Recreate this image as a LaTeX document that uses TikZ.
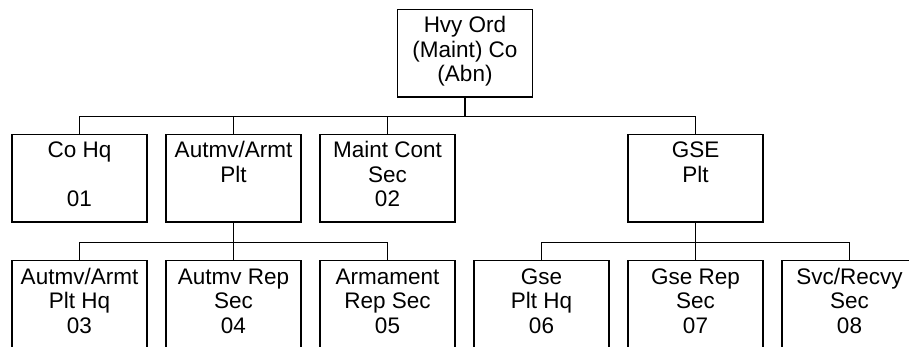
\documentclass[tikz,border=0pt]{standalone}
\usepackage{fontspec}
\setmainfont{Liberation Sans}
\newcommand\unittxt[1]{\vbox to 87.5pt{\hsize=135pt\parindent=0pt\centering\fontsize{22.5pt}{24.5pt}\selectfont\rule{0pt}{23.5pt}#1\par\vss}}
\begin{document}
\begin{tikzpicture}[x=1pt,y=-1pt,
  unit/.style={draw, line width=1.5pt, inner sep=0pt, minimum width=135pt, minimum height=87.5pt},
  link/.style={line width=1.5pt}]
\useasboundingbox (0,0) rectangle (909,347);
\clip (0,0) rectangle (909,347);
% top
\node[unit] (top) at (465,53.25) {\unittxt{Hvy Ord\\(Maint) Co\\(Abn)}};
% row 2
\node[unit] (cohq) at (79.5,178.05) {\unittxt{Co Hq\\[24.5pt]01}};
\node[unit] (aap) at (233.5,178.05) {\unittxt{Autmv/Armt\\Plt}};
\node[unit] (mcs) at (387.5,178.05) {\unittxt{Maint Cont\\Sec\\02}};
\node[unit] (gse) at (695.5,178.05) {\unittxt{GSE\\Plt}};
% row 3
\node[unit] (aaph) at (79.5,304.25) {\unittxt{Autmv/Armt\\Plt Hq\\03}};
\node[unit] (ars) at (233.5,304.25) {\unittxt{Autmv Rep\\Sec\\04}};
\node[unit] (arm) at (387.5,304.25) {\unittxt{Armament\\Rep Sec\\05}};
\node[unit] (gph) at (541.5,304.25) {\unittxt{Gse\\Plt Hq\\06}};
\node[unit] (grs) at (695.5,304.25) {\unittxt{Gse Rep\\Sec\\07}};
\node[unit] (svc) at (849.5,304.25) {\unittxt{Svc/Recvy\\Sec\\08}};
% connectors
\foreach \c in {cohq,aap,mcs,gse}
  \draw[link] (top.south) -- ++(0,19) -| (\c.north);
\foreach \c in {aaph,ars,arm}
  \draw[link] (aap.south) -- ++(0,20) -| (\c.north);
\foreach \c in {gph,grs,svc}
  \draw[link] (gse.south) -- ++(0,20) -| (\c.north);
\end{tikzpicture}
\end{document}
